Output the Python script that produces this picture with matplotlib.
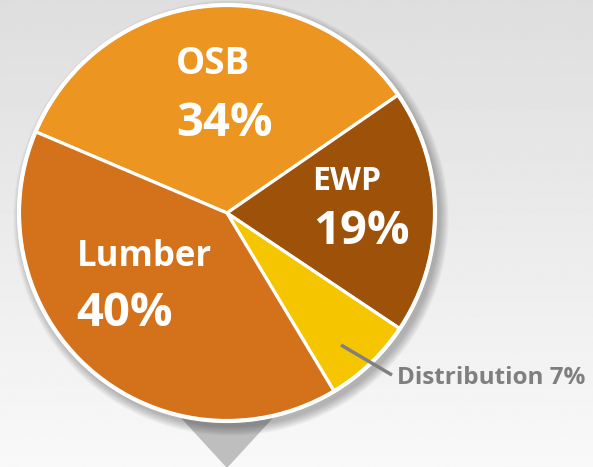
import numpy as np
import matplotlib.pyplot as plt
from matplotlib.patches import Polygon, Circle

# data
labels = ['OSB', 'EWP', 'Distribution', 'Lumber']
shares = [34, 19, 7, 40]
colors = ['#EC9520', '#9E5108', '#F5C500', '#D4721B']

W, H = 593, 467
fig = plt.figure(figsize=(W / 100, H / 100), dpi=100)
ax = fig.add_axes([0, 0, 1, 1])

# background gradient, darker at top
grad = np.linspace(0.975, 0.87, 256).reshape(-1, 1)
ax.imshow(grad, cmap='gray', vmin=0, vmax=1, extent=[0, W, 0, H],
          aspect='auto', origin='lower', zorder=0)

cx, cy, r = 227, H - 213, 208

# pointer triangle under the pie
ax.add_patch(Polygon([[182, H - 418], [272, H - 418], [227, 0]],
                     closed=True, color='#BEBEBE', zorder=1))

# soft shadow
for i in range(12):
    ax.add_patch(Circle((cx + 4, cy - 5), r + 1 + i * 0.8, color='black',
                        alpha=0.025, lw=0, zorder=1))

wedges, _ = ax.pie(shares, colors=colors, startangle=157, counterclock=False,
                   center=(cx, cy), radius=r, frame=True,
                   wedgeprops=dict(edgecolor='white', linewidth=2.3))
for w in wedges:
    w.set_zorder(2)
ax.add_patch(Circle((cx, cy), r, fill=False, ec='white', lw=3, zorder=3))
ax.set_xlim(0, W)
ax.set_ylim(0, H)
ax.set_aspect('auto')
ax.axis('off')

fam = ['Open Sans', 'DejaVu Sans']
tk = dict(color='white', fontweight='bold', family=fam, ha='center', va='center', zorder=4)
ax.text(213, H - 64, labels[0], fontsize=26.5, **tk)
ax.text(224, H - 123, f'{shares[0]}%', fontsize=34, **tk)
ax.text(347, H - 182, labels[1], fontsize=23, **tk)
ax.text(361, H - 231, f'{shares[1]}%', fontsize=34, **tk)
ax.text(144, H - 257, labels[3], fontsize=25, **tk)
ax.text(125, H - 314, f'{shares[3]}%', fontsize=34, **tk)

# callout for the small slice
ax.plot([341, 392], [H - 345, H - 375], color='#808080', lw=2.5,
        solid_capstyle='butt', zorder=4)
ax.text(397, H - 378, f'{labels[2]} {shares[2]}%', fontsize=17.5, color='#7F7F7F',
        fontweight='bold', family=fam, ha='left', va='center', zorder=4)

fig.savefig('out.png', dpi=100)
